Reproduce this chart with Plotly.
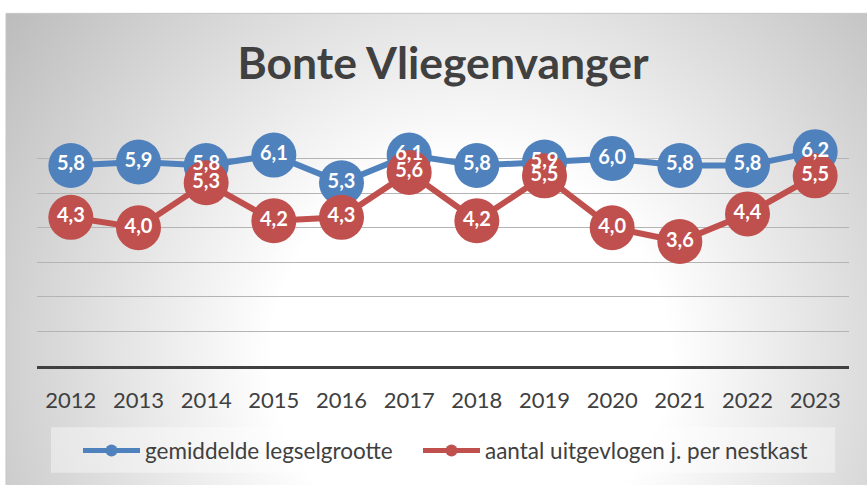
import base64
import plotly.graph_objects as go

# ---- data ----
years = ["2012", "2013", "2014", "2015", "2016", "2017",
         "2018", "2019", "2020", "2021", "2022", "2023"]
legselgrootte = [5.8, 5.9, 5.8, 6.1, 5.3, 6.1, 5.8, 5.9, 6.0, 5.8, 5.8, 6.2]
uitgevlogen = [4.3, 4.0, 5.3, 4.2, 4.3, 5.6, 4.2, 5.5, 4.0, 3.6, 4.4, 5.5]
name_blue = "gemiddelde legselgrootte"
name_red = "aantal uitgevlogen j. per nestkast"
title_text = "Bonte Vliegenvanger"

BLUE = "#4F81BD"
RED = "#C0504D"
TXT = "#404040"
FONT = "Lato, 'Open Sans', 'Liberation Sans', sans-serif"

W, H = 867, 485
L, R, T, B = 37, 18, 124, 116
PW, PH = W - L - R, H - T - B


def px_x(x):
    return (x - L) / PW


def px_y(y):
    return (H - B - y) / PH


def fmt(v):
    return f"{v:.1f}".replace(".", ",")


# background radial gradient (chart area)
svg = (
    '<svg xmlns="http://www.w3.org/2000/svg" width="870" height="490" '
    'viewBox="0 0 870 490" preserveAspectRatio="none">'
    '<defs><radialGradient id="g" gradientUnits="userSpaceOnUse" cx="464" cy="348" r="600">'
    '<stop offset="0" stop-color="#ffffff"/>'
    '<stop offset="0.33" stop-color="#ffffff"/>'
    '<stop offset="1" stop-color="#b8b8b8"/>'
    '</radialGradient></defs>'
    '<rect width="870" height="490" fill="url(#g)"/></svg>'
)
svg_uri = "data:image/svg+xml;base64," + base64.b64encode(svg.encode()).decode()

fig = go.Figure()

fig.add_trace(go.Scatter(
    x=years, y=legselgrootte, name=name_blue, mode="lines+markers",
    line=dict(color=BLUE, width=6), marker=dict(size=45, color=BLUE),
    legend="legend", cliponaxis=False, hoverinfo="x+y",
))
fig.add_trace(go.Scatter(
    x=years, y=uitgevlogen, name=name_red, mode="lines+markers",
    line=dict(color=RED, width=6), marker=dict(size=45, color=RED),
    legend="legend2", cliponaxis=False, hoverinfo="x+y",
))
for vals in (legselgrootte, uitgevlogen):
    fig.add_trace(go.Scatter(
        x=years, y=vals, mode="text", text=[fmt(v) for v in vals],
        textposition="middle center",
        textfont=dict(family=FONT, size=20, color="white", weight="bold"),
        showlegend=False, hoverinfo="skip", cliponaxis=False,
    ))

legend_common = dict(
    orientation="h", yanchor="middle", xanchor="left",
    bgcolor="rgba(0,0,0,0)", itemsizing="constant",
    font=dict(family=FONT, size=22.5, color=TXT),
    itemwidth=57,
)

fig.update_layout(
    width=W, height=H,
    margin=dict(l=L, r=R, t=T, b=B, pad=0),
    paper_bgcolor="white",
    plot_bgcolor="rgba(0,0,0,0)",
    showlegend=True,
    title=dict(
        text=title_text, x=px_x(443), xref="paper", xanchor="center",
        y=1 - 63 / H, yref="container", yanchor="middle",
        font=dict(family=FONT, size=44.5, color=TXT, weight="bold"),
    ),
    xaxis=dict(
        type="category", range=[-0.5, 11.5], showgrid=False,
        showline=True, linecolor=TXT, linewidth=3, ticks="",
        tickfont=dict(family=FONT, size=22, color=TXT),
        ticklabelstandoff=13, fixedrange=True,
    ),
    yaxis=dict(
        range=[0, 7], dtick=1, showticklabels=False, showgrid=True,
        gridcolor="#b4b4b4", gridwidth=1, zeroline=False, showline=False,
        ticks="", fixedrange=True,
    ),
    legend=dict(x=px_x(78), y=px_y(455), **legend_common),
    legend2=dict(x=px_x(418), y=px_y(455), **legend_common),
    images=[dict(
        source=svg_uri, xref="paper", yref="paper",
        x=px_x(6), y=px_y(12), sizex=870 / PW, sizey=490 / PH,
        xanchor="left", yanchor="top", sizing="stretch", layer="below",
    )],
    shapes=[
        dict(type="rect", xref="paper", yref="paper",
             x0=px_x(6), x1=px_x(880), y0=px_y(12), y1=px_y(500),
             line=dict(color="#c4c4c4", width=1), fillcolor="rgba(0,0,0,0)",
             layer="below"),
        dict(type="rect", xref="paper", yref="paper",
             x0=px_x(51), x1=px_x(835), y0=px_y(431), y1=px_y(477),
             line=dict(width=0), fillcolor="rgba(255,255,255,0.4)",
             layer="below"),
    ],
)

fig.write_html(
    "out.html",
    config={"displayModeBar": False},
    post_script="document.body.style.margin='0';document.body.style.overflow='hidden';",
)
